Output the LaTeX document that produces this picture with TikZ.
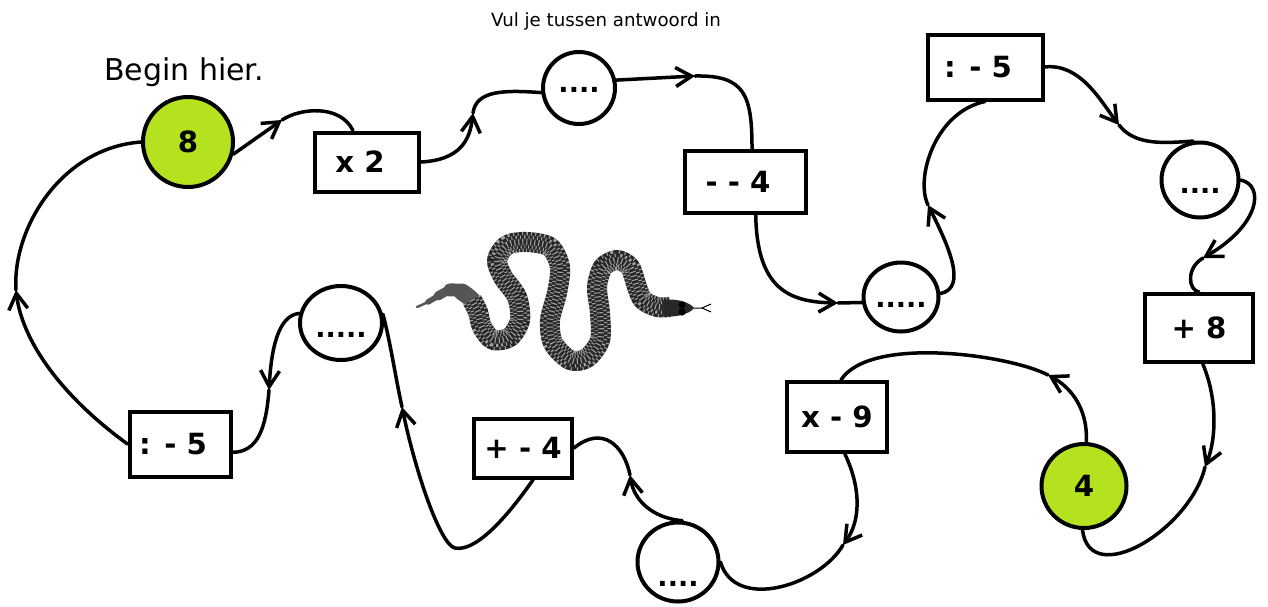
\documentclass[tikz,border=0pt]{standalone}
\usepackage{fontspec}
\setmainfont{DejaVu Sans}
\usetikzlibrary{arrows.meta,shapes.geometric}
\definecolor{limeg}{RGB}{181,226,31}
\definecolor{snakedark}{RGB}{40,40,40}
\definecolor{tailgray}{RGB}{85,85,85}
\newcommand\opfont{\fontsize{14.6pt}{17pt}\selectfont\bfseries}
\newcommand\dotfont{\fontsize{13.5pt}{16pt}\selectfont\bfseries}
\newcommand\lowtext[2]{\raisebox{-#1pt}[0pt][0pt]{#2}}
\newcommand\opsp{\hspace*{7pt}}
\newcommand\snakeline{plot[smooth] coordinates {(472,300) (478,312) (482,327) (493,340) (510,337) (520,320) (517,297) (503,277) (497,260) (507,245) (527,242) (550,247) (560,267) (557,293) (550,320) (553,343) (570,360) (587,358) (600,340) (600,313) (597,287) (603,267) (617,260) (630,267) (637,287) (643,300) (657,307) (670,307)}}
\begin{document}
\begin{tikzpicture}[x=0.5pt,y=-0.5pt,
  box/.style={draw, line width=2pt, rectangle, inner sep=0pt, font=\opfont},
  ring/.style={draw, line width=2pt, ellipse, inner sep=0pt, font=\dotfont},
  greenring/.style={ring, fill=limeg, font=\opfont},
  conn/.style={line width=1.75pt, line cap=round},
  arrowed/.style={conn, -{Straight Barb[length=8pt,width=9.5pt]}},
  snakebody/.style={line cap=butt, line join=round, snakedark},
  snaketail/.style={line cap=round, line join=round, tailgray},
  scales/.style={white, line cap=butt, dash pattern=on 0.55pt off 1.45pt, opacity=0.55}
]
\fill[white] (0,0) rectangle (1268,606);
\useasboundingbox (0,0) rectangle (1268,606);

% titles
\node[anchor=base, font=\fontsize{9.1pt}{10pt}\selectfont] (title) at (606,26) {Vul je tussen antwoord in};
\node[anchor=base, font=\fontsize{15pt}{17pt}\selectfont] (start) at (184,80) {Begin hier.};

% nodes
\node[greenring, minimum width=45pt, minimum height=45pt] (s8) at (188,142) {8};
\node[box, minimum width=52pt, minimum height=29.5pt] (bx2) at (367,162) {x 2\opsp};
\node[ring, minimum width=36pt, minimum height=36pt] (cA) at (579,88) {\lowtext{2.4}{....}};
\node[box, minimum width=60.5pt, minimum height=31pt] (bm4) at (745,182) {- - 4\opsp};
\node[box, minimum width=57.5pt, minimum height=32.5pt] (bd5t) at (985,67) {: - 5\opsp};
\node[ring, minimum width=38.5pt, minimum height=37.5pt] (cC) at (1200,180) {\lowtext{6.8}{....}};
\node[ring, minimum width=37.5pt, minimum height=34.5pt] (cB) at (901,297) {\lowtext{5.3}{.....}};
\node[box, minimum width=54pt, minimum height=34pt] (bp8) at (1199,328) {+ 8};
\node[greenring, minimum width=42.5pt, minimum height=42pt] (s4) at (1084,486) {4};
\node[box, minimum width=50pt, minimum height=35pt] (bx9) at (837,417) {x - 9};
\node[ring, minimum width=40.5pt, minimum height=39.5pt] (cD) at (678,562) {\lowtext{12.3}{....}};
\node[box, minimum width=49pt, minimum height=29.5pt] (bpm4) at (523,448) {+ - 4};
\node[ring, minimum width=41pt, minimum height=37pt] (cE) at (341,323) {\lowtext{7.3}{.....}};
\node[box, minimum width=50.5pt, minimum height=32.5pt] (bd5l) at (180,444) {: - 5\opsp};

% arrow points
\coordinate (a1) at (16,290);
\coordinate (a2) at (282,120);
\coordinate (a3) at (473,113);
\coordinate (a4) at (695,76);
\coordinate (a5) at (838,303);
\coordinate (a6) at (928,205);
\coordinate (a7) at (1119,125);
\coordinate (a8) at (1203,258);
\coordinate (a9) at (1205,467);
\coordinate (a10) at (1048,375);
\coordinate (a11) at (843,545);
\coordinate (a12) at (630,475);
\coordinate (m0) at (455,548);
\coordinate (a13) at (402,407);
\coordinate (a14) at (269,390);

% connectors
\draw[arrowed] (bd5l.west) .. controls (60,395) and (22,340) .. (a1);
\draw[conn] (a1) .. controls (12,230) and (60,148) .. (s8.west);

\draw[arrowed] (s8.-15) -- (a2);
\draw[conn] (a2) .. controls (300,108) and (340,104) .. (bx2.114);

\draw[arrowed] (bx2.east) .. controls (460,160) and (470,140) .. (a3);
\draw[conn] (a3) .. controls (476,90) and (505,90) .. (cA.187);

\draw[arrowed] (cA.12) -- (a4);
\draw[conn] (a4) .. controls (745,75) and (752,95) .. (bm4.78);

\draw[arrowed] (bm4.-72) .. controls (757,290) and (790,302) .. (a5);
\draw[conn] (a5) -- (cB.188);

\draw[arrowed] (cB.5) .. controls (968,288) and (948,245) .. (a6);
\draw[conn] (a6) .. controls (915,178) and (935,112) .. (bd5t.south);

\draw[arrowed] (bd5t.east) .. controls (1080,63) and (1100,100) .. (a7);
\draw[conn] (a7) .. controls (1135,146) and (1165,143) .. (cC.100);

\draw[arrowed] (cC.east) .. controls (1265,185) and (1260,225) .. (a8);
\draw[conn] (a8) .. controls (1186,268) and (1188,290) .. (bp8.north);

\draw[arrowed] (bp8.-84) .. controls (1218,400) and (1216,440) .. (a9);
\draw[conn] (a9) .. controls (1190,530) and (1090,590) .. (s4.-92);

\draw[arrowed] (s4.87) .. controls (1088,410) and (1072,388) .. (a10);
\draw[conn] (a10) .. controls (1010,355) and (870,335) .. (bx9.84);

\draw[arrowed] (bx9.-78) .. controls (862,490) and (860,522) .. (a11);
\draw[conn] (a11) .. controls (820,585) and (735,612) .. (cD.east);

\draw[arrowed] (cD.84) .. controls (652,518) and (634,500) .. (a12);
\draw[conn] (a12) .. controls (624,445) and (602,425) .. (bpm4.east);

\draw[arrowed] (bpm4.-72) .. controls (505,520) and (475,552) .. (m0) .. controls (440,545) and (415,470) .. (a13);
\draw[conn] (a13) .. controls (396,380) and (390,340) .. (cE.12);

\draw[arrowed] (cE.167) .. controls (283,315) and (272,335) .. (a14);
\draw[conn] (a14) .. controls (266,428) and (258,452) .. (bd5l.-9);

% snake: tail (tapered)
\draw[snaketail, line width=1.2pt] plot[smooth] coordinates {(417,307) (428,302) (440,295) (452,289) (462,291) (472,300) (478,312)};
\draw[snaketail, line width=2.8pt] plot[smooth] coordinates {(428,302) (440,295) (452,289) (462,291) (472,300) (478,312)};
\draw[snaketail, line width=4.5pt] plot[smooth] coordinates {(438,296) (452,289) (462,291) (472,300) (478,312) (482,325)};
\draw[snaketail, line width=6.5pt] plot[smooth] coordinates {(450,290) (462,291) (472,300) (478,312) (482,325)};
\draw[snaketail, line width=8.5pt] plot[smooth] coordinates {(462,292) (472,300) (478,312) (482,325) (488,335)};
% snake: body with scales
\draw[snakebody, line width=10pt] \snakeline;
\draw[scales, line width=10pt] \snakeline;
\draw[snakebody, line width=6.6pt] \snakeline;
\draw[scales, line width=6.6pt, dash phase=1pt] \snakeline;
\draw[snakebody, line width=3.2pt] \snakeline;
\draw[scales, line width=3.2pt] \snakeline;
% snake: head
\fill[snakedark] (663,300) .. controls (675,298) and (690,302) .. (694,308) .. controls (690,314) and (675,318) .. (663,316) -- cycle;
\fill[black] (682,305) circle (1.8pt);
\fill[black] (682,312) circle (1.8pt);
\draw[black, line width=0.5pt] (694,308) -- (702,308) -- (711,304);
\draw[black, line width=0.5pt] (702,308) -- (711,312);
\end{tikzpicture}
\end{document}
